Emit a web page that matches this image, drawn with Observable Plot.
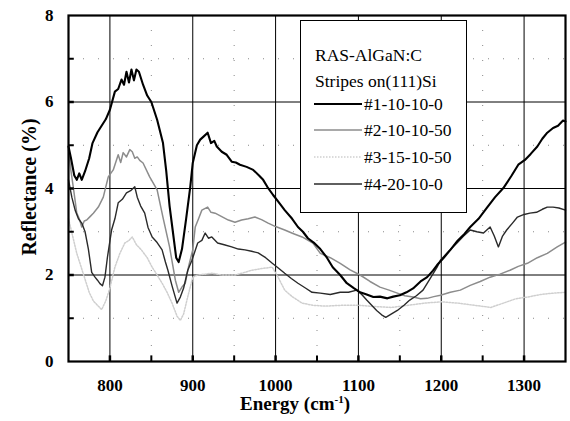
<!DOCTYPE html>
<html>
<head>
<meta charset="utf-8">
<script src="https://cdn.jsdelivr.net/npm/d3@7"></script>
<script src="https://cdn.jsdelivr.net/npm/@observablehq/plot@0.6"></script>
<style>
  body { margin: 0; background: #fff; }
  #wrap { position: relative; width: 570px; height: 421px; font-family: "Liberation Serif", Tinos, "Times New Roman", "DejaVu Serif", serif; }
  #wrap > svg { position: absolute; left: 0; top: 0; }
  #wrap text { font-family: "Liberation Serif", Tinos, "Times New Roman", "DejaVu Serif", serif; }
  .xtitle { position: absolute; left: 0; width: 590px; top: 396px; text-align: center; font-weight: bold; font-size: 19px; line-height: 16px; }
  .xtitle sup { font-size: 11px; vertical-align: 0; position: relative; top: -7px; line-height: 0; }
  .ytitle { position: absolute; left: 29px; top: 187px; transform: translate(-50%, -50%) rotate(-90deg); font-weight: bold; font-size: 20px; white-space: nowrap; }
  .legend { position: absolute; left: 300px; top: 20px; width: 167px; height: 193px; background: #fff; border: 1px solid #000; box-sizing: border-box; font-size: 17.5px; }
  .legend .t { position: absolute; left: 14px; white-space: nowrap; }
  .legend .row { position: absolute; left: 13px; height: 20px; display: flex; align-items: center; white-space: nowrap; }
  #wrap .legend .row svg { position: static; margin-right: 2px; display: block; }
</style>
</head>
<body>
<div id="wrap"></div>
<script>
// ---- data ----
const xTicks = [800, 900, 1000, 1100, 1200, 1300];
const xMinor = [850, 950, 1050, 1150, 1250];
const yTicks = [0, 2, 4, 6, 8];
const yGrid = [2, 4, 6];
const yMinor = [1, 3, 5, 7];
const seriesNames = ["#1-10-10-0", "#2-10-10-50", "#3-15-10-50", "#4-20-10-0"];

const s1E = [750,753,757,760,763,766,770,775,779,785,790,795,800,806,810,814,817,820,823,826,829,832,835,840,845,850,857,864,868,872,876,880,883,887,892,897,900,905,909,913,918,922,926,929,935,941,947,952,957,965,973,980,985,990,997,1003,1011,1020,1027,1033,1039,1046,1054,1062,1069,1078,1086,1094,1102,1110,1118,1126,1135,1142,1150,1158,1166,1175,1183,1190,1195,1203,1211,1220,1228,1235,1245,1255,1265,1275,1285,1293,1301,1308,1316,1322,1328,1335,1341,1347,1350];
const s1R = [4.97,4.7,4.3,4.2,4.35,4.2,4.4,4.7,5.05,5.3,5.45,5.6,5.82,6.24,6.3,6.52,6.4,6.7,6.45,6.75,6.5,6.75,6.7,6.4,6.15,6.0,5.59,5.06,4.4,3.6,3.0,2.4,2.3,2.6,3.3,4.04,4.59,5.0,5.13,5.2,5.29,5.05,5.1,4.97,4.85,4.78,4.62,4.6,4.55,4.5,4.43,4.3,4.2,4.04,3.85,3.7,3.5,3.3,3.11,3.0,2.85,2.75,2.6,2.4,2.18,2.0,1.81,1.7,1.6,1.55,1.49,1.5,1.46,1.5,1.53,1.6,1.69,1.85,1.95,2.1,2.23,2.4,2.58,2.8,2.95,3.11,3.3,3.55,3.8,4.01,4.3,4.55,4.66,4.8,4.97,5.15,5.29,5.4,5.45,5.57,5.55];

const s2E = [750,753,756,760,763,766,769,772,776,780,786,792,798,804,810,813,816,820,824,827,830,833,836,840,848,857,864,872,879,883,887,891,895,900,903,907,911,918,922,927,935,943,951,959,967,975,983,991,1000,1011,1021,1032,1045,1054,1066,1078,1090,1102,1114,1126,1137,1147,1156,1166,1175,1183,1191,1199,1211,1223,1235,1247,1259,1271,1283,1293,1304,1316,1328,1340,1350];
const s2R = [4.9,4.4,4.0,3.43,3.3,3.11,3.25,3.27,3.35,3.43,3.57,3.8,4.27,4.43,4.78,4.6,4.83,4.73,4.9,4.85,4.7,4.73,4.65,4.59,4.27,3.97,3.34,2.65,1.88,1.6,1.72,1.81,2.2,2.58,3.11,3.3,3.5,3.57,3.45,3.43,3.35,3.27,3.22,3.27,3.3,3.34,3.28,3.2,3.12,3.04,2.96,2.88,2.74,2.5,2.4,2.27,2.12,2.0,1.85,1.72,1.65,1.58,1.52,1.49,1.45,1.46,1.5,1.53,1.6,1.65,1.76,1.85,1.95,2.02,2.11,2.2,2.27,2.4,2.5,2.65,2.76];

const s3E = [750,755,760,765,770,775,780,785,790,795,800,806,812,818,823,827,832,838,845,851,857,863,869,875,881,885,889,894,900,906,915,923,935,951,961,971,983,996,1003,1011,1020,1032,1045,1060,1080,1100,1120,1140,1160,1180,1200,1220,1240,1260,1275,1290,1307,1320,1335,1350];
const s3R = [3.3,2.9,2.5,2.2,1.9,1.6,1.4,1.3,1.2,1.4,1.7,2.18,2.5,2.74,2.8,2.88,2.7,2.58,2.4,2.18,2.0,1.81,1.6,1.35,1.05,0.95,1.1,1.5,1.95,2.0,2.02,2.04,2.0,2.0,2.05,2.11,2.15,2.18,1.95,1.65,1.5,1.35,1.3,1.28,1.3,1.3,1.27,1.25,1.3,1.35,1.38,1.35,1.3,1.25,1.35,1.45,1.5,1.55,1.58,1.6];

const s4E = [750,754,758,762,766,770,774,778,782,785,788,791,794,797,802,806,810,815,820,825,830,833,837,842,846,851,857,863,867,870,875,881,885,889,894,899,906,911,915,919,923,930,938,947,955,963,971,979,988,996,1004,1011,1019,1027,1036,1044,1054,1066,1078,1088,1098,1104,1110,1116,1122,1128,1133,1140,1147,1155,1162,1170,1178,1186,1195,1199,1209,1219,1227,1235,1243,1251,1259,1264,1269,1274,1279,1286,1292,1300,1307,1315,1322,1328,1335,1342,1350];
const s4R = [4.2,3.8,3.5,3.3,3.2,3.0,2.6,2.06,1.95,1.88,1.8,1.75,1.95,2.41,3.04,3.3,3.67,3.75,3.9,3.95,4.04,3.8,3.6,3.43,3.1,2.88,2.75,2.58,2.3,2.11,1.75,1.35,1.49,1.7,2.11,2.34,2.74,2.8,2.97,2.85,2.88,2.74,2.7,2.65,2.6,2.58,2.55,2.51,2.4,2.27,2.15,2.04,1.92,1.81,1.7,1.6,1.58,1.55,1.6,1.6,1.65,1.55,1.42,1.3,1.18,1.08,1.02,1.1,1.18,1.3,1.42,1.52,1.65,1.9,2.18,2.34,2.55,2.74,2.9,3.04,3.0,2.97,3.11,2.9,2.65,2.9,3.04,3.2,3.34,3.4,3.43,3.45,3.52,3.57,3.57,3.55,3.5];

// ---- build ----
const toRows = (E, R) => E.map((e, i) => ({E: e, R: R[i]}));
const d1 = toRows(s1E, s1R), d2 = toRows(s2E, s2R), d3 = toRows(s3E, s3R), d4 = toRows(s4E, s4R);

const styles = [
  {stroke: "#000", strokeWidth: 2.1},
  {stroke: "#8c8c8c", strokeWidth: 1.5},
  {stroke: "#cfcfcf", strokeWidth: 1.5, strokeDasharray: "1.5,1.5"},
  {stroke: "#2a2a2a", strokeWidth: 1.4}
];

const fam = "Liberation Serif, Tinos, Times New Roman, DejaVu Serif, serif";

const chart = Plot.plot({
  width: 570,
  height: 421,
  marginLeft: 68,
  marginRight: 5,
  marginTop: 15,
  marginBottom: 60,
  style: {fontFamily: fam, background: "#fff"},
  x: {domain: [750, 1350], ticks: xTicks, tickFormat: d => String(d), label: null},
  y: {domain: [0, 8], ticks: yTicks, tickFormat: d => String(d), label: null},
  marks: [
    Plot.ruleY(yMinor, {stroke: "#888", strokeDasharray: "1,14", strokeWidth: 1}),
    Plot.ruleX(xMinor, {stroke: "#888", strokeDasharray: "1,14", strokeWidth: 1}),
    Plot.ruleY(yGrid, {stroke: "#000", strokeWidth: 1}),
    Plot.ruleX(xTicks, {stroke: "#000", strokeWidth: 1}),
    Plot.line(d3, {x: "E", y: "R", ...styles[2]}),
    Plot.line(d2, {x: "E", y: "R", ...styles[1]}),
    Plot.line(d4, {x: "E", y: "R", ...styles[3]}),
    Plot.line(d1, {x: "E", y: "R", ...styles[0]}),
    // inward ticks
    Plot.ruleX(xMinor, {y1: 0, y2: 0.13, stroke: "#000", strokeWidth: 2}),
    Plot.ruleX(xTicks, {y1: 0, y2: 0.13, stroke: "#000", strokeWidth: 2.5}),
    Plot.ruleY(yMinor, {x1: 750, x2: 757, stroke: "#000", strokeWidth: 2}),
    Plot.ruleY(yGrid, {x1: 750, x2: 757, stroke: "#000", strokeWidth: 2.5}),
    Plot.frame({stroke: "#000", strokeWidth: 2.2}),
    Plot.axisX({ticks: xTicks, tickSize: 0, tickPadding: 17, fontSize: 17, fontWeight: "bold", fontFamily: fam, label: null, tickFormat: d => String(d)}),
    Plot.axisY({ticks: yTicks, tickSize: 0, tickPadding: 15, fontSize: 17, fontWeight: "bold", fontFamily: fam, label: null, tickFormat: d => String(d)})
  ]
});

const wrap = document.getElementById("wrap");
wrap.appendChild(chart);

const xt = document.createElement("div");
xt.className = "xtitle";
xt.innerHTML = "Energy (cm<sup>-1</sup>)";
wrap.appendChild(xt);

const yt = document.createElement("div");
yt.className = "ytitle";
yt.textContent = "Reflectance (%)";
wrap.appendChild(yt);

const lg = document.createElement("div");
lg.className = "legend";
const t1 = document.createElement("div"); t1.className = "t"; t1.style.top = "24px"; t1.textContent = "RAS-AlGaN:C"; lg.appendChild(t1);
const t2 = document.createElement("div"); t2.className = "t"; t2.style.top = "50px"; t2.textContent = "Stripes on(111)Si"; lg.appendChild(t2);
const rowTops = [73, 99, 126, 153];
seriesNames.forEach((name, i) => {
  const row = document.createElement("div");
  row.className = "row";
  row.style.top = rowTops[i] + "px";
  const st = styles[i];
  row.innerHTML = `<svg width="48" height="10"><line x1="0" y1="5" x2="48" y2="5" stroke="${st.stroke}" stroke-width="${st.strokeWidth}" ${st.strokeDasharray ? `stroke-dasharray="${st.strokeDasharray}"` : ""}/></svg><span>${name}</span>`;
  lg.appendChild(row);
});
wrap.appendChild(lg);
</script>
</body>
</html>
